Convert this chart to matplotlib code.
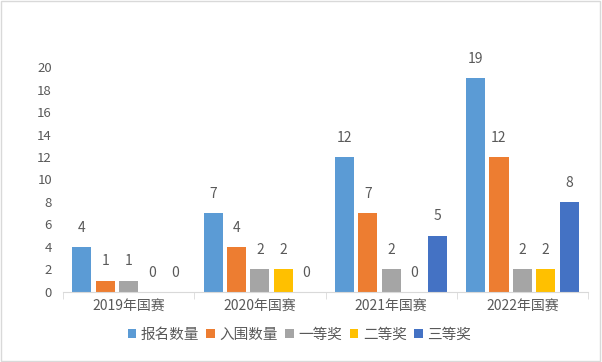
import matplotlib.pyplot as plt
import numpy as np
from matplotlib.patches import Rectangle

plt.rcParams['font.family'] = ['Noto Sans CJK SC', 'DejaVu Sans']

# Data
groups = ['2019年国赛', '2020年国赛', '2021年国赛', '2022年国赛']
series = ['报名数量', '入围数量', '一等奖', '二等奖', '三等奖']
baoming = [4, 7, 12, 19]
ruwei = [1, 4, 7, 12]
yideng = [1, 2, 2, 2]
erdeng = [0, 2, 0, 2]
sandeng = [0, 0, 5, 8]
colors = ['#5B9BD5', '#ED7D31', '#A5A5A5', '#FFC000', '#4472C4']

values = [baoming, ruwei, yideng, erdeng, sandeng]
text_c = '#595959'

fig = plt.figure(figsize=(6.02, 3.62), dpi=100)
ax = fig.add_axes([0.1047, 0.1934, 0.872, 0.6215])

x = np.arange(len(groups))
step = 0.178
width = 0.145
for i, (name, vals, c) in enumerate(zip(series, values, colors)):
    pos = x + (i - 2) * step
    bars = ax.bar(pos, vals, width, color=c, label=name)
    for p, v in zip(pos, vals):
        ax.text(p, v + 1.1, str(v), ha='center', va='bottom',
                fontsize=10, color=text_c, clip_on=False)

ax.set_xlim(-0.5, len(groups) - 0.5)
ax.set_ylim(0, 20)
ax.set_yticks(range(0, 21, 2))
ax.tick_params(axis='y', length=0, labelsize=9.5, labelcolor=text_c, pad=8)

ax.set_xticks(x)
ax.set_xticklabels(groups)
ax.tick_params(axis='x', length=0, labelsize=10, labelcolor=text_c, pad=5)
# group boundary ticks
ax.set_xticks(np.arange(-0.5, len(groups), 1), minor=True)
ax.tick_params(axis='x', which='minor', length=5, color='#D9D9D9')

for s in ['top', 'right', 'left']:
    ax.spines[s].set_visible(False)
ax.spines['bottom'].set_color('#D9D9D9')

ax.legend(loc='center', bbox_to_anchor=(0.45, -0.19), ncol=5, frameon=False,
          fontsize=10.5, handlelength=0.6, handleheight=0.6, handletextpad=0.3,
          columnspacing=0.5, labelcolor=text_c)

# chart border
fig.patches.append(Rectangle((0.002, 0.003), 0.995, 0.993, transform=fig.transFigure,
                             fill=False, edgecolor='#D9D9D9', linewidth=1))

fig.savefig('out.png', dpi=100)
